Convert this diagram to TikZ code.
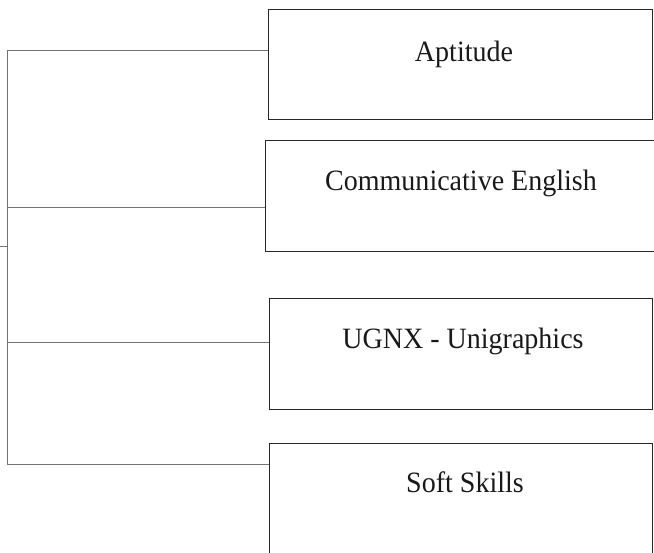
\documentclass[tikz,border=0pt]{standalone}
\usepackage{fontspec}
\usepackage{graphicx}
\setmainfont{Liberation Serif}
\newcommand{\boxlabel}[1]{\scalebox{0.95}[1]{\fontsize{29.5}{34}\selectfont #1}}
\begin{document}
\begin{tikzpicture}[x=1pt,y=-1pt,
  boxstyle/.style={draw=black!85,line width=1.3pt,rectangle,inner sep=0pt,anchor=north west},
  txt/.style={anchor=base,inner sep=0pt,text=black!90},
  conn/.style={draw=black!55,line width=0.8pt}]
\clip (0,0) rectangle (654,553);
% boxes
\node[boxstyle,minimum width=384pt,minimum height=110pt] (apt) at (268,9) {};
\node[boxstyle,minimum width=400pt,minimum height=111pt] (com) at (265,140) {};
\node[boxstyle,minimum width=383pt,minimum height=111pt] (ugnx) at (269,298) {};
\node[boxstyle,minimum width=383pt,minimum height=130pt] (soft) at (269,443) {};
% texts
\node[txt] (aptT) at (464,62) {\boxlabel{Aptitude}};
\node[txt] (comT) at (461,191) {\boxlabel{Communicative English}};
\node[txt] (ugnxT) at (463,349) {\boxlabel{UGNX - Unigraphics}};
\node[txt] (softT) at (465,493) {\boxlabel{Soft Skills}};
% connector points on trunk
\coordinate (t1) at (7,50);
\coordinate (t2) at (7,207);
\coordinate (t3) at (7,342);
\coordinate (t4) at (7,464);
\coordinate (s0) at (0,246);
\coordinate (s1) at (7,246);
\draw[conn] (t1) -- (t4);
\draw[conn] (t1) -- (t1 -| apt.west);
\draw[conn] (t2) -- (t2 -| com.west);
\draw[conn] (t3) -- (t3 -| ugnx.west);
\draw[conn] (t4) -- (t4 -| soft.west);
\draw[conn] (s0) -- (s1);
\end{tikzpicture}
\end{document}
